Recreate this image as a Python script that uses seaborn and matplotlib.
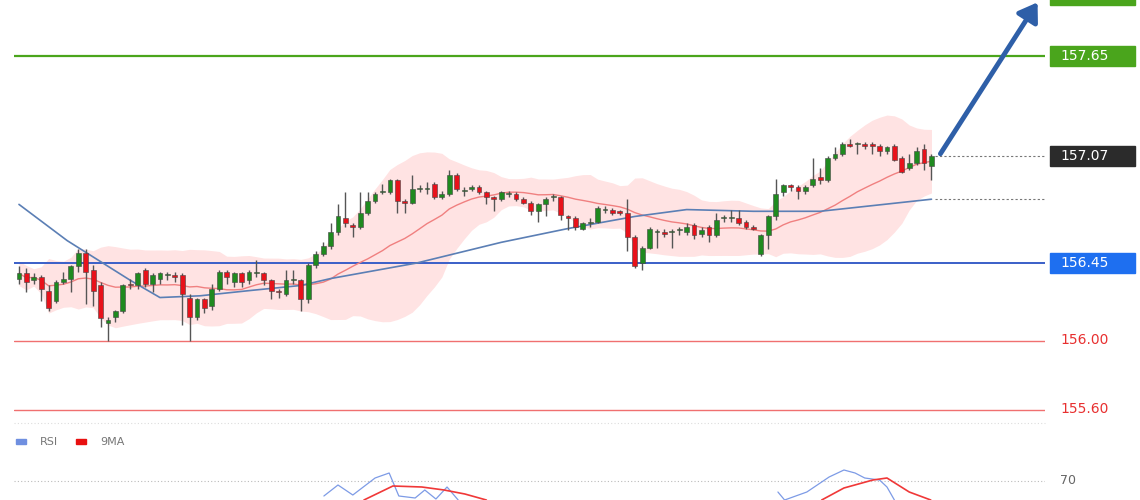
import numpy as np
import pandas as pd
import matplotlib
matplotlib.use("Agg")
import matplotlib.pyplot as plt
import seaborn as sns
from matplotlib.patches import Rectangle

# OHLC, one value per candle
opens = [156.36, 156.39, 156.35, 156.37, 156.29, 156.23, 156.34, 156.36, 156.43, 156.51,
         156.41, 156.32, 156.10, 156.14, 156.17, 156.33, 156.32, 156.41, 156.33, 156.36,
         156.38, 156.38, 156.38, 156.25, 156.14, 156.24, 156.20, 156.30, 156.40, 156.34,
         156.39, 156.35, 156.39, 156.39, 156.35, 156.29, 156.27, 156.35, 156.35, 156.24,
         156.44, 156.50, 156.55, 156.63, 156.71, 156.67, 156.66, 156.74, 156.81, 156.86,
         156.86, 156.93, 156.81, 156.80, 156.88, 156.88, 156.91, 156.83, 156.85, 156.96,
         156.87, 156.88, 156.89, 156.86, 156.83, 156.82, 156.85, 156.85, 156.82, 156.80,
         156.75, 156.79, 156.83, 156.83, 156.72, 156.71, 156.65, 156.68, 156.69, 156.76,
         156.76, 156.75, 156.74, 156.60, 156.45, 156.54, 156.63, 156.63, 156.63, 156.64,
         156.63, 156.67, 156.62, 156.66, 156.61, 156.71, 156.71, 156.71, 156.69, 156.66,
         156.50, 156.61, 156.72, 156.86, 156.90, 156.89, 156.87, 156.90, 156.95, 156.93,
         157.06, 157.08, 157.14, 157.14, 157.14, 157.14, 157.13, 157.10, 157.13, 157.06,
         157.00, 157.03, 157.11, 157.01]
closes = [156.39, 156.34, 156.37, 156.30, 156.19, 156.34, 156.36, 156.43, 156.51, 156.40,
          156.29, 156.13, 156.12, 156.17, 156.32, 156.32, 156.39, 156.33, 156.38, 156.39,
          156.38, 156.37, 156.27, 156.14, 156.24, 156.19, 156.30, 156.40, 156.37, 156.39,
          156.34, 156.40, 156.39, 156.35, 156.29, 156.28, 156.35, 156.35, 156.24, 156.44,
          156.50, 156.55, 156.63, 156.72, 156.68, 156.66, 156.74, 156.81, 156.85, 156.87,
          156.93, 156.81, 156.80, 156.88, 156.88, 156.88, 156.83, 156.85, 156.96, 156.88,
          156.87, 156.89, 156.86, 156.83, 156.82, 156.86, 156.85, 156.82, 156.80, 156.75,
          156.79, 156.82, 156.83, 156.73, 156.71, 156.66, 156.68, 156.69, 156.77, 156.76,
          156.74, 156.74, 156.60, 156.43, 156.54, 156.65, 156.63, 156.62, 156.63, 156.64,
          156.66, 156.61, 156.64, 156.61, 156.70, 156.71, 156.71, 156.68, 156.66, 156.65,
          156.61, 156.72, 156.85, 156.90, 156.89, 156.87, 156.89, 156.94, 156.93, 157.06,
          157.08, 157.14, 157.13, 157.14, 157.13, 157.13, 157.10, 157.12, 157.05, 156.98,
          157.03, 157.10, 157.03, 157.07]
highs = [156.43, 156.42, 156.39, 156.38, 156.32, 156.35, 156.40, 156.44, 156.53, 156.53,
         156.44, 156.34, 156.14, 156.18, 156.33, 156.36, 156.40, 156.42, 156.39, 156.40,
         156.40, 156.40, 156.39, 156.27, 156.25, 156.25, 156.33, 156.41, 156.41, 156.40,
         156.40, 156.41, 156.47, 156.40, 156.36, 156.30, 156.41, 156.41, 156.36, 156.45,
         156.52, 156.57, 156.68, 156.79, 156.86, 156.68, 156.86, 156.86, 156.86, 156.91,
         156.94, 156.94, 156.82, 156.96, 156.90, 156.92, 156.92, 156.87, 156.99, 156.97,
         156.89, 156.90, 156.90, 156.87, 156.84, 156.87, 156.87, 156.86, 156.83, 156.81,
         156.80, 156.83, 156.85, 156.84, 156.73, 156.72, 156.69, 156.71, 156.78, 156.78,
         156.77, 156.76, 156.82, 156.61, 156.55, 156.66, 156.65, 156.65, 156.65, 156.66,
         156.68, 156.68, 156.66, 156.67, 156.74, 156.73, 156.76, 156.76, 156.70, 156.67,
         156.62, 156.73, 156.94, 156.91, 156.91, 156.90, 156.90, 157.06, 157.00, 157.07,
         157.12, 157.15, 157.17, 157.15, 157.15, 157.15, 157.14, 157.13, 157.14, 157.07,
         157.08, 157.12, 157.14, 157.08]
lows = [156.33, 156.28, 156.33, 156.23, 156.17, 156.22, 156.33, 156.28, 156.40, 156.21,
        156.20, 156.08, 156.00, 156.11, 156.16, 156.30, 156.30, 156.31, 156.28, 156.33,
        156.35, 156.34, 156.09, 156.00, 156.12, 156.16, 156.18, 156.29, 156.33, 156.31,
        156.31, 156.33, 156.37, 156.32, 156.24, 156.25, 156.26, 156.33, 156.17, 156.22,
        156.42, 156.49, 156.53, 156.61, 156.66, 156.60, 156.65, 156.73, 156.80, 156.85,
        156.85, 156.74, 156.74, 156.79, 156.86, 156.85, 156.82, 156.82, 156.84, 156.87,
        156.84, 156.87, 156.85, 156.79, 156.75, 156.81, 156.83, 156.81, 156.79, 156.73,
        156.69, 156.72, 156.81, 156.70, 156.64, 156.64, 156.64, 156.66, 156.68, 156.74,
        156.73, 156.73, 156.52, 156.42, 156.41, 156.53, 156.54, 156.60, 156.54, 156.61,
        156.61, 156.59, 156.60, 156.57, 156.60, 156.69, 156.69, 156.67, 156.65, 156.64,
        156.49, 156.53, 156.70, 156.84, 156.87, 156.82, 156.85, 156.89, 156.91, 156.92,
        157.05, 157.07, 157.12, 157.08, 157.11, 157.08, 157.07, 157.08, 157.04, 156.97,
        156.99, 157.02, 156.99, 156.93]

# slow moving average (blue), sampled at candle indices
slow_idx = [0, 6.5, 15, 19, 24.4, 31, 38, 42, 53.6, 65, 74, 83, 90, 99, 108, 123]
slow_val = [156.79, 156.58, 156.35, 156.25, 156.26, 156.29, 156.32, 156.36, 156.45,
            156.57, 156.65, 156.72, 156.76, 156.75, 156.75, 156.82]

# RSI pane (only the top is visible)
rsi_idx = [[41.1, 43, 45, 48, 49.9, 51.2, 53.4, 54.7, 56.2, 57.7, 59.2],
           [102.3, 103.2, 106.2, 109.2, 111.2, 112.7, 114, 116, 117, 118]]
rsi_val = [[62.5, 68, 63, 71.5, 74, 62.5, 61.5, 65.5, 61, 67, 60.5],
           [64.5, 60.5, 64.5, 72, 75.5, 74, 71.5, 70.5, 67, 60.5]]
ma9_idx = [[46.5, 50.4, 54.3, 57.3, 60.1, 63], [108.2, 111.2, 115.1, 117, 120, 122.9]]
ma9_val = [[60.5, 67.5, 67, 65.5, 63.5, 60.5], [60.5, 66.5, 70.5, 71.5, 64.5, 60.5]]

levels = [157.65, 156.45, 156.00, 155.60]
last_price = 157.07

sns.set_theme(style="white")
plt.rcParams["font.family"] = ["DejaVu Sans"]

df = pd.DataFrame({"o": opens, "h": highs, "l": lows, "c": closes})
df["i"] = np.arange(len(df))
df["ma"] = df["c"].rolling(20, min_periods=1).mean()
sd = df["c"].rolling(20, min_periods=2).std().bfill()
df["up"] = df["ma"] + 2 * sd
df["dn"] = df["ma"] - 2 * sd

fig = plt.figure(figsize=(11.4, 5), dpi=100)
ax = fig.add_axes([14 / 1140, 80 / 500, 1031 / 1140, 420 / 500])
ax.set_xlim(-0.67, 138.3)
ax.set_ylim(155.54, 157.975)

ax.fill_between(df["i"], df["dn"], df["up"], color="#ffe3e3", lw=0, zorder=0)
sns.lineplot(data=df, x="i", y="ma", ax=ax, color="#f08080", lw=1, zorder=2)
sns.lineplot(x=slow_idx, y=slow_val, ax=ax, color="#5b7fb5", lw=1.2, zorder=2)

ax.axhline(levels[0], color="#4aa51c", lw=1.6, zorder=1)
ax.axhline(levels[1], color="#3a5fc8", lw=1.4, zorder=1)
ax.axhline(levels[2], color="#f07070", lw=1, zorder=1)
ax.axhline(levels[3], color="#f07070", lw=1, zorder=1)

up = df["c"] >= df["o"]
ax.vlines(df["i"], df["l"], df["h"], color="#555555", lw=1, zorder=3)
body_h = (df["c"] - df["o"]).abs().clip(lower=0.006)
ax.bar(df["i"], body_h, bottom=df[["o", "c"]].min(axis=1), width=0.65,
       color=np.where(up, "#1f8a1f", "#e8111a"), edgecolor="#444444", lw=0.4, zorder=4)

n = len(df) - 1
ax.plot([n + 0.5, 138.3], [last_price, last_price], ls=(0, (2, 2)), color="#777777", lw=0.8)
ax.plot([n + 0.5, 138.3], [slow_val[-1], slow_val[-1]], ls=(0, (2, 2)), color="#777777", lw=0.8)
ax.annotate("", xy=(137.5, 157.975), xytext=(n + 1, last_price),
            arrowprops=dict(arrowstyle="-|>,head_width=0.6,head_length=0.9",
                            color="#2e5fa8", lw=3.5), annotation_clip=False)

for s in ax.spines.values():
    s.set_visible(False)
ax.set_xticks([])
ax.set_yticks([])
ax.set_xlabel("")
ax.set_ylabel("")

# price label boxes on the right
def price_box(y_px, text, face, txt_color="white"):
    fig.patches.append(Rectangle((1050 / 1140, 1 - (y_px + 10) / 500), 85 / 1140, 20 / 500,
                                 transform=fig.transFigure, color=face, zorder=5))
    fig.text(1060 / 1140, 1 - y_px / 500, text, color=txt_color, fontsize=10,
             va="center", ha="left", zorder=6)

price_box(56, "157.65", "#4aa51c")
price_box(156, "157.07", "#2b2b2b")
price_box(263, "156.45", "#1e6ff0")
fig.patches.append(Rectangle((1050 / 1140, 1 - 5 / 500), 85 / 1140, 10 / 500,
                             transform=fig.transFigure, color="#4aa51c"))
fig.text(1060 / 1140, 1 - 340 / 500, "156.00", color="#e83030", fontsize=10, va="center")
fig.text(1060 / 1140, 1 - 409 / 500, "155.60", color="#e83030", fontsize=10, va="center")

# RSI pane
rax = fig.add_axes([14 / 1140, 0, 1031 / 1140, 75 / 500])
rax.set_xlim(-0.67, 138.3)
rax.set_ylim(60.5, 98)
rax.axhline(70, color="#bbbbbb", ls=(0, (1, 2)), lw=0.8)
for xs, ys in zip(rsi_idx, rsi_val):
    sns.lineplot(x=xs, y=ys, ax=rax, color="#7d9be6", lw=0.9)
for xs, ys in zip(ma9_idx, ma9_val):
    sns.lineplot(x=xs, y=ys, ax=rax, color="#f03838", lw=1.2)
for s in rax.spines.values():
    s.set_visible(False)
rax.set_xticks([])
rax.set_yticks([])
fig.text(1060 / 1140, 1 - 480 / 500, "70", color="#666666", fontsize=9, va="center")
fig.lines.append(plt.Line2D([14 / 1140, 1045 / 1140], [1 - 423 / 500] * 2, transform=fig.transFigure,
                            color="#dddddd", ls=(0, (1, 2)), lw=0.8))
fig.patches.append(Rectangle((16 / 1140, 1 - 444 / 500), 10 / 1140, 5 / 500,
                             transform=fig.transFigure, color="#6f8fe0"))
fig.text(40 / 1140, 1 - 442 / 500, "RSI", color="#777777", fontsize=8, va="center")
fig.patches.append(Rectangle((76 / 1140, 1 - 444 / 500), 10 / 1140, 5 / 500,
                             transform=fig.transFigure, color="#e81010"))
fig.text(100 / 1140, 1 - 442 / 500, "9MA", color="#777777", fontsize=8, va="center")

fig.savefig("out.png", dpi=100, facecolor="white")
